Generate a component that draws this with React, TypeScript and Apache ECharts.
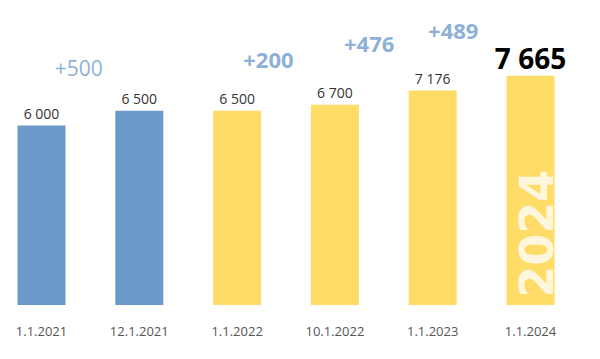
import React, { useEffect, useRef } from "react";
import * as echarts from "echarts";

const categories = ["1.1.2021", "12.1.2021", "1.1.2022", "10.1.2022", "1.1.2023", "1.1.2024"];
const values = [6000, 6500, 6500, 6700, 7176, 7665];
const deltaLabels = ["+500", "+200", "+476", "+489"];
const deltaBold = [false, true, true, true];
// layout of the change annotations (x in category units, y in value units)
const deltaPos = [
  [0.38, 7930],
  [2.32, 8230],
  [3.35, 8760],
  [4.21, 9200],
];
const yearLabel = "2024";

const BLUE = "#6b9ac8";
const YELLOW = "#ffdc67";
const FONT = "'Open Sans', sans-serif";

const fmt = (v: number) => String(v).replace(/\B(?=(\d{3})+(?!\d))/g, " ");

export default function App() {
  const ref = useRef<HTMLDivElement>(null);
  useEffect(() => {
    if (!ref.current) return;
    const chart = echarts.init(ref.current, null, { renderer: "svg" });
    const last = values.length - 1;
    chart.setOption({
      animation: false,
      grid: { left: 0.6, right: 20.6, top: 6, bottom: 54, containLabel: false },
      xAxis: [
        {
          type: "category",
          data: categories,
          axisLine: { show: false },
          axisTick: { show: false },
          axisLabel: { color: "#555", fontSize: 13, fontFamily: FONT, margin: 19 },
        },
        { type: "value", min: -0.5, max: 5.5, show: false },
      ],
      yAxis: { type: "value", min: 0, max: 10000, show: false },
      series: [
        {
          type: "bar",
          barWidth: 48,
          data: values.map((v, i) => ({
            value: v,
            itemStyle: { color: categories[i].endsWith("2021") ? BLUE : YELLOW },
            label:
              i === last
                ? { fontSize: 28, fontWeight: "bold", color: "#000", distance: 4 }
                : undefined,
          })),
          label: {
            show: true,
            position: "top",
            distance: 5,
            color: "#333",
            fontSize: 14,
            fontFamily: FONT,
            formatter: (p: any) => fmt(p.value),
          },
        },
        {
          type: "scatter",
          xAxisIndex: 1,
          symbolSize: 0,
          data: deltaPos.map((p, i) => ({
            value: p,
            label: deltaBold[i] ? { fontWeight: "bold", fontSize: 22 } : {},
          })),
          label: {
            show: true,
            position: "inside",
            color: "#6e9bcc",
            fontSize: 21,
            fontFamily: FONT,
            formatter: (p: any) => deltaLabels[p.dataIndex],
          },
          z: 5,
        },
        {
          type: "scatter",
          xAxisIndex: 1,
          symbolSize: 0,
          data: [[last, 2380]],
          label: {
            show: true,
            position: "inside",
            rotate: 90,
            offset: [0, 6],
            color: "#fff",
            fontSize: 46,
            fontWeight: "bold",
            fontFamily: "'DejaVu Sans', sans-serif",
            formatter: () => yearLabel,
          },
          z: 5,
        },
      ],
    });
    return () => chart.dispose();
  }, []);
  return (
    <div
      ref={ref}
      style={{ position: "fixed", left: -8, top: 0, width: 608, height: 359, background: "#fff" }}
    />
  );
}
